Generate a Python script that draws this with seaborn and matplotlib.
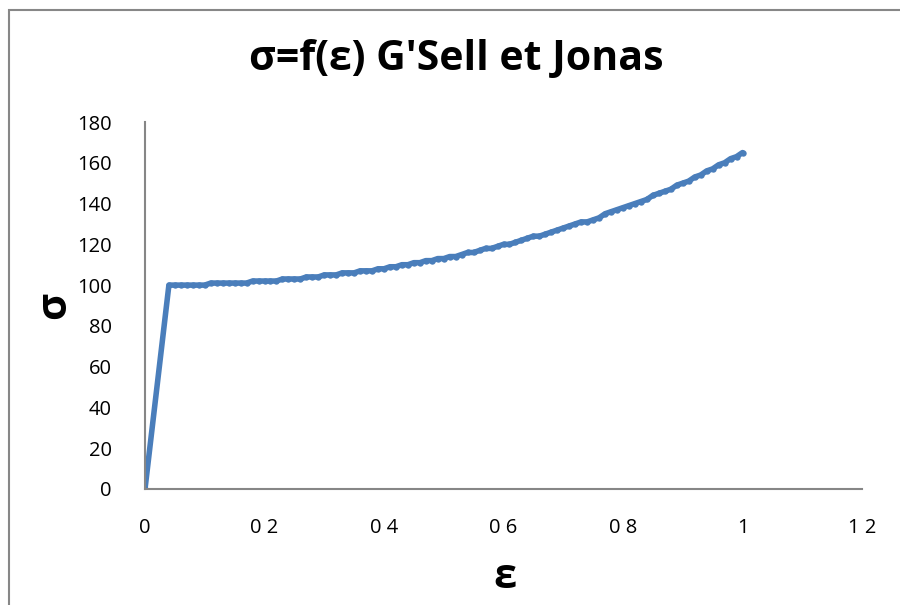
import matplotlib
matplotlib.use("Agg")
import matplotlib.pyplot as plt
import seaborn as sns
import pandas as pd
from matplotlib.patches import Rectangle

# Strain values (ε)
strain = [0.00, 0.04, 0.05, 0.06, 0.07, 0.08, 0.09, 0.10,
          0.11, 0.12, 0.13, 0.14, 0.15, 0.16, 0.17, 0.18, 0.19, 0.20,
          0.21, 0.22, 0.23, 0.24, 0.25, 0.26, 0.27, 0.28, 0.29, 0.30,
          0.31, 0.32, 0.33, 0.34, 0.35, 0.36, 0.37, 0.38, 0.39, 0.40,
          0.41, 0.42, 0.43, 0.44, 0.45, 0.46, 0.47, 0.48, 0.49, 0.50,
          0.51, 0.52, 0.53, 0.54, 0.55, 0.56, 0.57, 0.58, 0.59, 0.60,
          0.61, 0.62, 0.63, 0.64, 0.65, 0.66, 0.67, 0.68, 0.69, 0.70,
          0.71, 0.72, 0.73, 0.74, 0.75, 0.76, 0.77, 0.78, 0.79, 0.80,
          0.81, 0.82, 0.83, 0.84, 0.85, 0.86, 0.87, 0.88, 0.89, 0.90,
          0.91, 0.92, 0.93, 0.94, 0.95, 0.96, 0.97, 0.98, 0.99, 1.00]

# Stress values (σ)
stress = [0, 100, 100, 100, 100, 100, 100, 100,
          101, 101, 101, 101, 101, 101, 101, 102, 102, 102,
          102, 102, 103, 103, 103, 103, 104, 104, 104, 105,
          105, 105, 106, 106, 106, 107, 107, 107, 108, 108,
          109, 109, 110, 110, 111, 111, 112, 112, 113, 113,
          114, 114, 115, 116, 116, 117, 118, 118, 119, 120,
          120, 121, 122, 123, 124, 124, 125, 126, 127, 128,
          129, 130, 131, 131, 132, 133, 135, 136, 137, 138,
          139, 140, 141, 142, 144, 145, 146, 147, 149, 150,
          151, 153, 154, 156, 157, 159, 160, 162, 163, 165]

x_ticks = [0, 0.2, 0.4, 0.6, 0.8, 1.0, 1.2]
x_tick_labels = ["0", "0 2", "0 4", "0 6", "0 8", "1", "1 2"]
y_ticks = [0, 20, 40, 60, 80, 100, 120, 140, 160, 180]

sns.set_style("white")
plt.rcParams["font.family"] = ["Open Sans", "DejaVu Sans"]
plt.rcParams["text.color"] = "black"

df = pd.DataFrame({"strain": strain, "stress": stress})

fig = plt.figure(figsize=(9, 6.05), dpi=100)
ax = fig.add_axes([145 / 900, 1 - 489 / 605, (862 - 145) / 900, (489 - 122) / 605])

line_color = "#4A7EBB"
sns.lineplot(data=df, x="strain", y="stress", ax=ax, color=line_color,
             linewidth=4.0, marker="o", markersize=4.6,
             markeredgewidth=0, markerfacecolor=line_color)

ax.set_xlim(0, 1.2)
ax.set_ylim(0, 180)
ax.set_xticks(x_ticks)
ax.set_xticklabels(x_tick_labels)
ax.set_yticks(y_ticks)
ax.tick_params(axis="both", length=0, labelsize=14.5, colors="black")
ax.tick_params(axis="y", pad=24)
ax.tick_params(axis="x", pad=21)

for side in ("top", "right"):
    ax.spines[side].set_visible(False)
for side in ("left", "bottom"):
    ax.spines[side].set_color("#868686")
    ax.spines[side].set_linewidth(1.5)
ax.grid(False)

ax.set_xlabel("")
ax.set_ylabel("")
fig.text(505 / 900, 1 - 578 / 605, "ε", fontsize=30, fontweight="bold",
         ha="center", va="center")
fig.text(55 / 900, 1 - 305 / 605, "σ", fontsize=30, fontweight="bold",
         ha="center", va="center", rotation=90)
fig.text(456 / 900, 1 - 60 / 605, "σ=f(ε) G'Sell et Jonas", fontsize=29.5,
         fontweight="bold", ha="center", va="center")

# Chart area frame
fig.patches.append(Rectangle((8.5 / 900, -0.05), 1.2, 1 - 9.5 / 605 + 0.05,
                             transform=fig.transFigure, fill=False,
                             edgecolor="#878787", linewidth=1.5))

fig.savefig("out.png", dpi=100, facecolor="white")
